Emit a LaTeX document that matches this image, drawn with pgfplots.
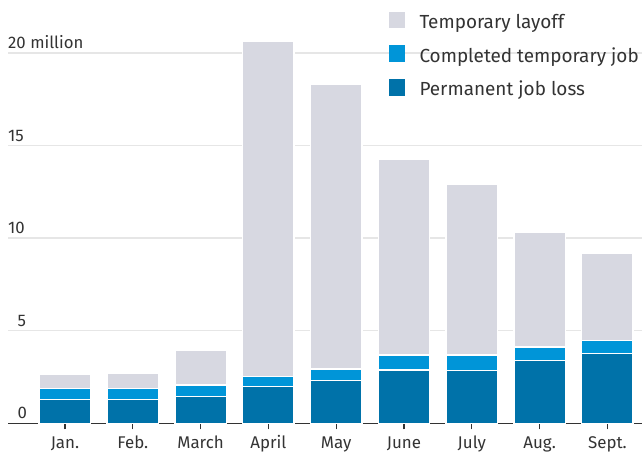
\documentclass[border=0pt]{standalone}
\usepackage{fontspec}
\setmainfont{Fira Sans}
\usepackage{pgfplots}
\pgfplotsset{compat=1.18}
\definecolor{tempc}{HTML}{D7D8E1}
\definecolor{compc}{HTML}{0095D8}
\definecolor{permc}{HTML}{0072A9}
\definecolor{txt}{HTML}{333333}
\definecolor{gridc}{HTML}{E6E6E6}
\begin{document}
\begin{tikzpicture}
\begin{axis}[name=ax, scale only axis, width=634bp, height=388.92bp,
  set layers=standard,
  xmin=-0.84, xmax=8.51, ymin=0, ymax=21,
  ybar stacked, bar width=0.76,
  axis x line*=bottom, axis y line*=left,
  y axis line style={draw=none},
  x axis line style={color=txt, line width=1.3bp, -, /pgfplots/on layer=axis foreground},
  xtick={0,...,8},
  xticklabels={Jan.,Feb.,March,April,May,June,July,Aug.,Sept.},
  ytick={0,5,10,15,20},
  yticklabels={\hphantom{0}0,\hphantom{0}5,10,15,20 million},
  tick align=inside, major tick length=6bp,
  xtick style={color=txt, line width=1.3bp, yshift=-6bp},
  ytick style={draw=none},
  ymajorgrids, grid style={color=gridc, line width=1.3bp},
  xticklabel style={font=\fontsize{17}{20}\selectfont, text=txt, anchor=base, inner sep=0pt, yshift=-25bp},
  yticklabel style={font=\fontsize{16.8}{20}\selectfont, text=txt, anchor=base west, inner sep=0pt, yshift=4.4bp},
  /pgf/number format/assume math mode=true,
  legend style={at={(0.59984,1.0593)}, anchor=north west, draw=none, fill=none,
    inner sep=0pt, row sep=13.1bp, font=\fontsize{19}{22}\selectfont, text=txt,
    nodes={inner sep=0pt, text height=16bp, text depth=4bp},
    /tikz/every odd column/.append style={column sep=14.3bp}},
  legend image code/.code={\fill[#1, draw=none] (0bp,-6bp) rectangle (16.7bp,10.7bp);},
  reverse legend, legend cell align=left,
]
\addplot[fill=permc, draw=white, line width=1.4bp] coordinates
  {(0,1.28) (1,1.28) (2,1.46) (3,2.00) (4,2.30) (5,2.88) (6,2.86) (7,3.40) (8,3.76)};
\addplot[fill=compc, draw=white, line width=1.4bp] coordinates
  {(0,0.61) (1,0.61) (2,0.61) (3,0.54) (4,0.64) (5,0.81) (6,0.83) (7,0.72) (8,0.71)};
\addplot[fill=tempc, draw=white, line width=1.4bp] coordinates
  {(0,0.78) (1,0.83) (2,1.87) (3,18.08) (4,15.34) (5,10.57) (6,9.22) (7,6.20) (8,4.69)};
\legend{Permanent job loss, Completed temporary job, Temporary layoff}
\end{axis}
\pgfresetboundingbox
\path ([shift={(-8bp,-29.7bp)}]ax.south west) rectangle ([shift={(634bp,423.3bp)}]ax.south west);
\end{tikzpicture}
\end{document}
